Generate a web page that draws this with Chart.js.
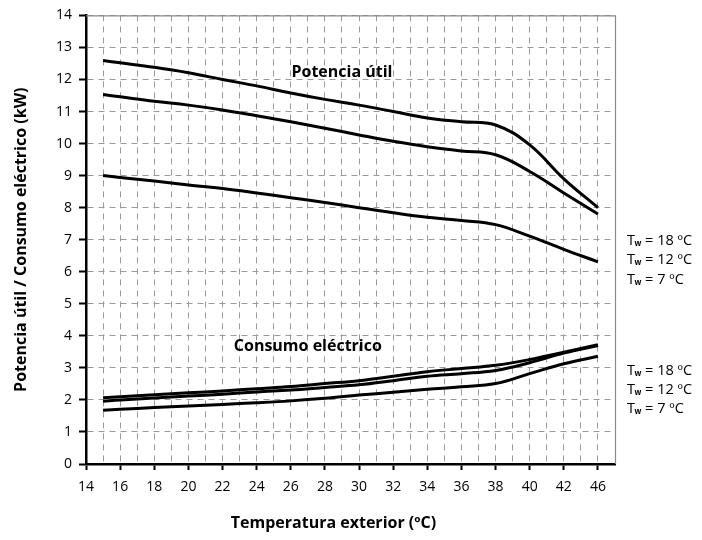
<!DOCTYPE html>
<html>
<head>
<meta charset="utf-8">
<script src="https://cdn.jsdelivr.net/npm/chart.js@4"></script>
<style>
  html, body { margin: 0; padding: 0; background: #fff; }
  #wrap { width: 702px; height: 540px; }
</style>
</head>
<body>
<div id="wrap"><canvas id="chart"></canvas></div>
<script>
// outdoor temperature positions (the last tick is labelled 46 in the original)
const temps = [15, 16, 18, 20, 22, 24, 26, 28, 30, 32, 34, 36, 38, 40, 42, 44];
const xTickLabels = ['14', '16', '18', '20', '22', '24', '26', '28', '30', '32', '34', '36', '38', '40', '42', '46'];

// Potencia útil (kW)
const potencia18 = [12.59, 12.52, 12.38, 12.21, 12.0, 11.8, 11.58, 11.38, 11.2, 11.0, 10.8, 10.68, 10.58, 9.96, 8.9, 8.0];
const potencia12 = [11.53, 11.46, 11.32, 11.2, 11.05, 10.87, 10.68, 10.48, 10.27, 10.07, 9.9, 9.77, 9.65, 9.13, 8.46, 7.8];
const potencia7 = [9.0, 8.94, 8.83, 8.71, 8.6, 8.46, 8.31, 8.16, 8.0, 7.84, 7.7, 7.6, 7.47, 7.11, 6.7, 6.31];

// Consumo eléctrico (kW)
const consumo18 = [2.07, 2.1, 2.16, 2.22, 2.28, 2.35, 2.42, 2.51, 2.6, 2.74, 2.88, 2.98, 3.08, 3.26, 3.49, 3.72];
const consumo12 = [1.96, 2.0, 2.06, 2.12, 2.18, 2.25, 2.31, 2.39, 2.47, 2.6, 2.74, 2.82, 2.92, 3.16, 3.46, 3.7];
const consumo7 = [1.68, 1.71, 1.76, 1.81, 1.86, 1.91, 1.97, 2.05, 2.15, 2.24, 2.33, 2.41, 2.51, 2.82, 3.13, 3.36];

const waterTemps = ['18', '12', '7'];

const FONT = "'Open Sans', 'DejaVu Sans', sans-serif";

const toPoints = vals => vals.map((v, i) => ({ x: temps[i], y: v }));

const mkSet = (label, vals) => ({
  label: label,
  data: toPoints(vals),
  borderColor: '#000',
  borderWidth: 3,
  pointRadius: 0,
  fill: false,
  tension: 0.4
});

// frame, curve names, Tw labels and the x title
const annotations = {
  id: 'annotations',
  afterDraw(chart) {
    const { ctx, chartArea: a, scales: { x, y } } = chart;
    ctx.save();

    // grey top / right frame
    ctx.strokeStyle = '#8a8a8a';
    ctx.lineWidth = 1.2;
    ctx.setLineDash([]);
    ctx.beginPath();
    ctx.moveTo(a.left, a.top + 0.5);
    ctx.lineTo(a.right + 0.5, a.top + 0.5);
    ctx.lineTo(a.right + 0.5, a.bottom);
    ctx.stroke();

    ctx.fillStyle = '#000';
    ctx.textBaseline = 'middle';
    ctx.textAlign = 'center';
    ctx.font = "bold 16px " + FONT;
    ctx.fillText('Potencia útil', x.getPixelForValue(29.0), y.getPixelForValue(12.23));
    ctx.fillText('Consumo eléctrico', x.getPixelForValue(27.0), y.getPixelForValue(3.68));

    ctx.font = "bold 16px " + FONT;
    ctx.fillText('Temperatura exterior (ºC)', x.getPixelForValue(28.5), a.bottom + 59);

    // Tw groups
    ctx.textAlign = 'left';
    [6.36, 2.31].forEach(center => {
      const cy = y.getPixelForValue(center);
      waterTemps.forEach((t, i) => {
        const py = cy + (i - 1) * 19.2;
        let px = a.right + 12;
        ctx.font = "14.5px " + FONT;
        ctx.fillText('T', px, py);
        px += ctx.measureText('T').width - 0.5;
        ctx.font = "bold 8px " + FONT;
        ctx.fillText('w', px, py + 3);
        px += ctx.measureText('w').width;
        ctx.font = "14.5px " + FONT;
        ctx.fillText(' = ' + t + ' ºC', px, py);
      });
    });
    ctx.restore();
  }
};

new Chart(document.getElementById('chart'), {
  type: 'line',
  data: {
    datasets: [
      mkSet('Potencia útil Tw = 18 ºC', potencia18),
      mkSet('Potencia útil Tw = 12 ºC', potencia12),
      mkSet('Potencia útil Tw = 7 ºC', potencia7),
      mkSet('Consumo eléctrico Tw = 18 ºC', consumo18),
      mkSet('Consumo eléctrico Tw = 12 ºC', consumo12),
      mkSet('Consumo eléctrico Tw = 7 ºC', consumo7)
    ]
  },
  options: {
    responsive: true,
    maintainAspectRatio: false,
    animation: false,
    layout: { padding: { top: 13, right: 87, left: 0, bottom: 0 } },
    plugins: {
      legend: { display: false },
      tooltip: { enabled: false }
    },
    scales: {
      x: {
        type: 'linear',
        min: 14,
        max: 45,
        afterFit: s => { s.height = 76; },
        ticks: {
          stepSize: 1,
          autoSkip: false,
          maxRotation: 0,
          padding: 9,
          color: '#000',
          font: { family: FONT, size: 14 },
          callback: v => (v % 2 === 0 && v <= 44) ? xTickLabels[(v - 14) / 2] : ''
        },
        grid: {
          color: '#9a9a9a',
          lineWidth: 1,
          tickLength: 6,
          tickWidth: 2,
          tickColor: c => (c.tick && c.tick.value % 2 === 0 && c.tick.value <= 44) ? '#000' : 'rgba(0,0,0,0)'
        },
        border: { color: '#000', width: 2.5, dash: [6, 5] }
      },
      y: {
        min: 0,
        max: 14,
        afterFit: s => { s.width = 86; },
        ticks: {
          stepSize: 1,
          padding: 7,
          color: '#000',
          font: { family: FONT, size: 14 }
        },
        grid: {
          color: '#9a9a9a',
          lineWidth: 1,
          tickLength: 7,
          tickWidth: 2,
          tickColor: '#000'
        },
        border: { color: '#000', width: 2.5, dash: [6, 5] },
        title: {
          display: true,
          text: 'Potencia útil / Consumo eléctrico (kW)',
          color: '#000',
          font: { family: FONT, size: 16, weight: 'bold' },
          padding: { top: 12, bottom: 0 }
        }
      }
    }
  },
  plugins: [annotations]
});
</script>
</body>
</html>
